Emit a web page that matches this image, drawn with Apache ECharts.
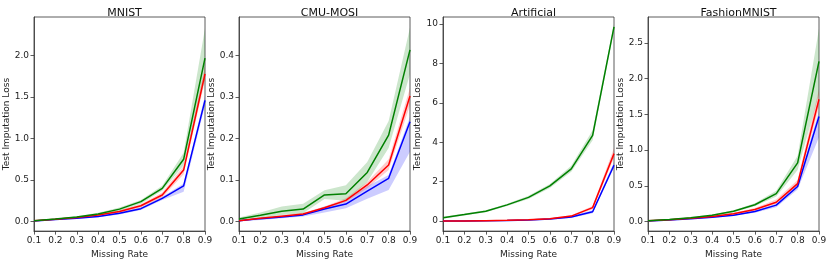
<!DOCTYPE html>
<html><head><meta charset="utf-8">
<script src="https://cdn.jsdelivr.net/npm/echarts@6/dist/echarts.min.js"></script>
<style>html,body{margin:0;padding:0;background:#fff}#c{width:831px;height:264px}</style>
</head><body><div id="c"></div>
<script>
const missingRates = [0.1,0.2,0.3,0.4,0.5,0.6,0.7,0.8,0.9];
const xTicks = [0.1,0.2,0.3,0.4,0.5,0.6,0.7,0.8,0.9];
const titles = ['MNIST','CMU-MOSI','Artificial','FashionMNIST'];

// MNIST
const mnistGreen   = [0.01,0.03,0.055,0.09,0.15,0.24,0.40,0.75,1.97];
const mnistGreenLo = [0.005,0.025,0.045,0.075,0.13,0.215,0.37,0.68,1.72];
const mnistGreenHi = [0.015,0.035,0.065,0.105,0.17,0.26,0.43,0.83,2.33];
const mnistRed     = [0.01,0.028,0.048,0.078,0.12,0.19,0.32,0.62,1.78];
const mnistRedLo   = [0.007,0.024,0.042,0.07,0.105,0.17,0.29,0.57,1.70];
const mnistRedHi   = [0.013,0.032,0.054,0.086,0.135,0.21,0.35,0.67,1.87];
const mnistBlue    = [0.008,0.025,0.04,0.062,0.10,0.155,0.28,0.43,1.46];
const mnistBlueLo  = [0.005,0.02,0.033,0.053,0.085,0.14,0.26,0.36,1.40];
const mnistBlueHi  = [0.011,0.03,0.047,0.07,0.115,0.17,0.30,0.46,1.52];
const mnistTicks   = [0,0.5,1.0,1.5,2.0];

// CMU-MOSI
const mosiGreen   = [0.006,0.015,0.025,0.03,0.064,0.067,0.118,0.208,0.413];
const mosiGreenLo = [0.002,0.008,0.016,0.02,0.054,0.05,0.095,0.177,0.355];
const mosiGreenHi = [0.01,0.022,0.036,0.043,0.075,0.087,0.143,0.242,0.467];
const mosiRed     = [0.002,0.008,0.013,0.018,0.033,0.051,0.088,0.136,0.302];
const mosiRedLo   = [0.001,0.006,0.011,0.016,0.03,0.047,0.08,0.124,0.28];
const mosiRedHi   = [0.003,0.01,0.015,0.021,0.036,0.056,0.095,0.15,0.322];
const mosiBlue    = [0.002,0.007,0.011,0.016,0.03,0.042,0.073,0.104,0.24];
const mosiBlueLo  = [0.0,0.004,0.008,0.012,0.022,0.032,0.055,0.076,0.168];
const mosiBlueHi  = [0.004,0.009,0.014,0.019,0.036,0.05,0.085,0.112,0.252];
const mosiTicks   = [0,0.1,0.2,0.3,0.4];

// Artificial
const artGreen   = [0.17,0.33,0.5,0.82,1.2,1.78,2.65,4.35,9.85];
const artGreenLo = [0.12,0.28,0.45,0.76,1.12,1.68,2.5,4.1,9.7];
const artGreenHi = [0.22,0.38,0.55,0.88,1.28,1.88,2.8,4.6,10.0];
const artRed     = [0.0,0.0,0.02,0.04,0.07,0.12,0.25,0.68,3.42];
const artRedLo   = [-0.02,-0.02,0.0,0.02,0.05,0.09,0.2,0.6,3.2];
const artRedHi   = [0.02,0.02,0.04,0.06,0.09,0.15,0.3,0.76,3.7];
const artBlue    = [0.0,0.0,0.015,0.03,0.05,0.1,0.2,0.47,2.83];
const artBlueLo  = [-0.02,-0.02,0.0,0.01,0.03,0.07,0.15,0.4,2.7];
const artBlueHi  = [0.02,0.02,0.03,0.05,0.07,0.13,0.25,0.55,3.0];
const artTicks   = [0,2,4,6,8,10];

// FashionMNIST
const fashGreen   = [0.01,0.03,0.055,0.09,0.145,0.235,0.39,0.82,2.24];
const fashGreenLo = [0.005,0.025,0.045,0.078,0.13,0.215,0.35,0.72,1.78];
const fashGreenHi = [0.015,0.035,0.065,0.1,0.16,0.255,0.43,0.92,2.70];
const fashRed     = [0.01,0.027,0.045,0.07,0.11,0.17,0.27,0.53,1.71];
const fashRedLo   = [0.007,0.022,0.038,0.062,0.1,0.155,0.25,0.5,1.6];
const fashRedHi   = [0.013,0.032,0.052,0.08,0.125,0.19,0.31,0.58,1.85];
const fashBlue    = [0.008,0.022,0.038,0.06,0.09,0.14,0.23,0.49,1.47];
const fashBlueLo  = [0.005,0.018,0.032,0.052,0.08,0.125,0.2,0.45,1.18];
const fashBlueHi  = [0.011,0.026,0.044,0.068,0.1,0.155,0.25,0.53,1.55];
const fashTicks   = [0,0.5,1.0,1.5,2.0,2.5];

const panels = [
  {g:mnistGreen,gl:mnistGreenLo,gh:mnistGreenHi,r:mnistRed,rl:mnistRedLo,rh:mnistRedHi,b:mnistBlue,bl:mnistBlueLo,bh:mnistBlueHi,ticks:mnistTicks,min:-0.115,max:2.465,dec:1,left:34,gap:21},
  {g:mosiGreen,gl:mosiGreenLo,gh:mosiGreenHi,r:mosiRed,rl:mosiRedLo,rh:mosiRedHi,b:mosiBlue,bl:mosiBlueLo,bh:mosiBlueHi,ticks:mosiTicks,min:-0.023,max:0.492,dec:1,left:239,gap:22},
  {g:artGreen,gl:artGreenLo,gh:artGreenHi,r:artRed,rl:artRedLo,rh:artRedHi,b:artBlue,bl:artBlueLo,bh:artBlueHi,ticks:artTicks,min:-0.51,max:10.35,dec:0,left:443,gap:19},
  {g:fashGreen,gl:fashGreenLo,gh:fashGreenHi,r:fashRed,rl:fashRedLo,rh:fashRedHi,b:fashBlue,bl:fashBlueLo,bh:fashBlueHi,ticks:fashTicks,min:-0.133,max:2.86,dec:1,left:648,gap:21}
];

const W = 171, TOP = 17, H = 218;
const font = 'DejaVu Sans';
const txt = '#222';
const option = {animation:false, backgroundColor:'#fff', title:[], grid:[], xAxis:[], yAxis:[], series:[]};

function band(i, lo, hi, color) {
  option.series.push({type:'custom', xAxisIndex:i, yAxisIndex:i, silent:true, z:1,
    data: missingRates.map((x,k)=>[x, lo[k], hi[k]]),
    renderItem: (params, api) => {
      if (params.dataIndex !== 0) return null;
      const pts = [];
      for (let k = 0; k < missingRates.length; k++) pts.push(api.coord([missingRates[k], hi[k]]));
      for (let k = missingRates.length - 1; k >= 0; k--) pts.push(api.coord([missingRates[k], lo[k]]));
      return {type:'polygon', shape:{points:pts}, style:{fill:color, opacity:0.2}};
    }});
}
function line(i, ys, color) {
  option.series.push({type:'line', xAxisIndex:i, yAxisIndex:i, symbol:'none', lineStyle:{color:color, width:1.5},
    data: missingRates.map((x,k)=>[x, ys[k]]), z:3});
}

panels.forEach((p,i)=>{
  option.title.push({text:titles[i], left:p.left+W/2, top:3, textAlign:'center',
    textStyle:{fontFamily:font, fontSize:11, fontWeight:'normal', color:'#111'}});
  option.grid.push({left:p.left, top:TOP, width:W, height:H, show:true, borderColor:'#333', borderWidth:0.8, backgroundColor:'transparent'});
  option.xAxis.push({type:'value', gridIndex:i, min:0.1, max:0.9, name:'Missing Rate', nameLocation:'middle', nameGap:18,
    nameTextStyle:{fontFamily:font, fontSize:9, color:txt},
    axisLine:{show:true, onZero:false, lineStyle:{color:'#333', width:0.8}},
    axisTick:{show:true, length:3.5, customValues:xTicks, lineStyle:{color:'#333', width:0.8}},
    axisLabel:{customValues:xTicks, fontFamily:font, fontSize:9, color:txt, margin:5, formatter:v=>v.toFixed(1)},
    splitLine:{show:false}});
  option.yAxis.push({type:'value', gridIndex:i, min:p.min, max:p.max, name:'Test Imputation Loss', nameLocation:'middle', nameGap:p.gap,
    nameTextStyle:{fontFamily:font, fontSize:9, color:txt},
    axisLine:{show:true, onZero:false, lineStyle:{color:'#333', width:0.8}},
    axisTick:{show:true, length:3.5, customValues:p.ticks, lineStyle:{color:'#333', width:0.8}},
    axisLabel:{customValues:p.ticks, fontFamily:font, fontSize:9, color:txt, margin:5, formatter:v=>v.toFixed(p.dec)},
    splitLine:{show:false}});
  band(i, p.bl, p.bh, '#0000ff');
  band(i, p.rl, p.rh, '#ff0000');
  band(i, p.gl, p.gh, '#008000');
  line(i, p.b, '#0000ff');
  line(i, p.r, '#ff0000');
  line(i, p.g, '#008000');
});

const chart = echarts.init(document.getElementById('c'), null, {renderer:'canvas'});
chart.setOption(option);
</script>
</body></html>
